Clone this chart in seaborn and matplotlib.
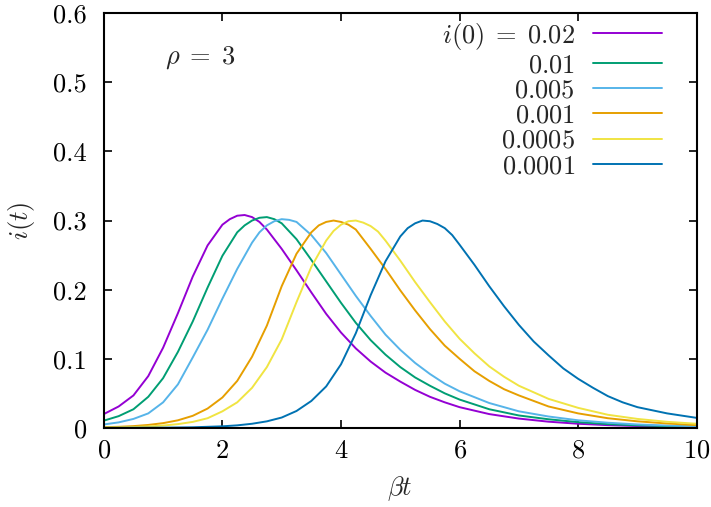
import pandas as pd
import matplotlib
matplotlib.use('Agg')
import matplotlib.pyplot as plt
import seaborn as sns

# --------------
# Data
# --------------
labels = [r'$i(0) \;=\; 0.02$', '$0.01$', '$0.005$', '$0.001$', '$0.0005$', '$0.0001$']
colors = ['#9400d3', '#009e73', '#56b4e9', '#e69f00', '#f0e442', '#0072b2']

# i(0) = 0.02
t_a = [0, 0.25, 0.5, 0.75, 1.0, 1.25, 1.5, 1.75, 2.0, 2.125, 2.25, 2.375, 2.5, 2.625,
       2.75, 3.0, 3.25, 3.5, 3.75, 4.0, 4.25, 4.5, 4.75, 5.0, 5.25, 5.5, 5.75, 6.0,
       6.5, 7.0, 7.5, 8.0, 8.5, 9.0, 9.5, 10.0]
i_a = [0.020, 0.031, 0.047, 0.075, 0.116, 0.166, 0.219, 0.264, 0.294, 0.302, 0.307,
       0.308, 0.305, 0.298, 0.287, 0.259, 0.228, 0.196, 0.165, 0.138, 0.115, 0.096,
       0.080, 0.067, 0.055, 0.045, 0.037, 0.030, 0.020, 0.0135, 0.009, 0.006, 0.004,
       0.0027, 0.0018, 0.0012]

# i(0) = 0.01
t_b = [0, 0.25, 0.5, 0.75, 1.0, 1.25, 1.5, 1.75, 2.0, 2.25, 2.375, 2.5, 2.625, 2.75,
       2.875, 3.0, 3.25, 3.5, 3.75, 4.0, 4.25, 4.5, 4.75, 5.0, 5.25, 5.5, 5.75, 6.0,
       6.5, 7.0, 7.5, 8.0, 8.5, 9.0, 9.5, 10.0]
i_b = [0.0105, 0.017, 0.027, 0.045, 0.072, 0.110, 0.154, 0.203, 0.249, 0.283, 0.293,
       0.300, 0.304, 0.305, 0.302, 0.296, 0.273, 0.243, 0.212, 0.181, 0.152, 0.127,
       0.106, 0.088, 0.073, 0.061, 0.050, 0.041, 0.027, 0.018, 0.0125, 0.0083, 0.0055,
       0.0037, 0.0025, 0.0017]

# i(0) = 0.005
t_c = [0, 0.25, 0.5, 0.75, 1.0, 1.25, 1.5, 1.75, 2.0, 2.25, 2.5, 2.625, 2.75, 2.875,
       3.0, 3.125, 3.25, 3.5, 3.75, 4.0, 4.25, 4.5, 4.75, 5.0, 5.25, 5.5, 5.75, 6.0,
       6.5, 7.0, 7.5, 8.0, 8.5, 9.0, 9.5, 10.0]
i_c = [0.005, 0.008, 0.013, 0.021, 0.037, 0.063, 0.102, 0.142, 0.187, 0.230, 0.268,
       0.283, 0.293, 0.299, 0.302, 0.301, 0.298, 0.279, 0.253, 0.222, 0.191, 0.162,
       0.135, 0.113, 0.094, 0.078, 0.064, 0.053, 0.036, 0.024, 0.0165, 0.011, 0.0075,
       0.005, 0.0034, 0.0023]

# i(0) = 0.001
t_d = [0, 0.25, 0.5, 0.75, 1.0, 1.25, 1.5, 1.75, 2.0, 2.25, 2.5, 2.75, 3.0, 3.25, 3.5,
       3.625, 3.75, 3.875, 4.0, 4.125, 4.25, 4.5, 4.75, 5.0, 5.25, 5.5, 5.75, 6.0,
       6.25, 6.5, 6.75, 7.0, 7.5, 8.0, 8.5, 9.0, 9.5, 10.0]
i_d = [0.001, 0.0016, 0.0026, 0.0043, 0.0069, 0.011, 0.0175, 0.028, 0.044, 0.068,
       0.103, 0.148, 0.205, 0.252, 0.283, 0.293, 0.298, 0.300, 0.298, 0.294, 0.287,
       0.259, 0.230, 0.199, 0.170, 0.143, 0.119, 0.100, 0.082, 0.068, 0.056, 0.047,
       0.031, 0.021, 0.014, 0.0095, 0.0064, 0.004]

# i(0) = 0.0005
t_e = [0, 0.25, 0.5, 0.75, 1.0, 1.25, 1.5, 1.75, 2.0, 2.25, 2.5, 2.75, 3.0, 3.25, 3.5,
       3.75, 3.875, 4.0, 4.125, 4.25, 4.375, 4.5, 4.625, 4.75, 5.0, 5.25, 5.5, 5.75,
       6.0, 6.25, 6.5, 6.75, 7.0, 7.5, 8.0, 8.5, 9.0, 9.5, 10.0]
i_e = [0.0005, 0.0008, 0.0013, 0.0021, 0.0034, 0.0055, 0.0087, 0.014, 0.024, 0.037,
       0.058, 0.088, 0.128, 0.182, 0.233, 0.271, 0.285, 0.294, 0.299, 0.300, 0.297,
       0.292, 0.284, 0.271, 0.242, 0.211, 0.182, 0.154, 0.129, 0.108, 0.089, 0.074,
       0.061, 0.042, 0.029, 0.019, 0.013, 0.0088, 0.006]

# i(0) = 0.0001
t_f = [0, 0.5, 1.0, 1.5, 2.0, 2.25, 2.5, 2.75, 3.0, 3.25, 3.5, 3.75, 4.0, 4.25, 4.5,
       4.75, 5.0, 5.125, 5.25, 5.375, 5.5, 5.625, 5.75, 5.875, 6.0, 6.25, 6.5, 6.75,
       7.0, 7.25, 7.5, 7.75, 8.0, 8.25, 8.5, 8.75, 9.0, 9.5, 10.0]
i_f = [0.0001, 0.0002, 0.0004, 0.0009, 0.0023, 0.0037, 0.006, 0.0095, 0.015, 0.0245,
       0.039, 0.060, 0.092, 0.137, 0.192, 0.241, 0.277, 0.289, 0.296, 0.300, 0.299,
       0.295, 0.289, 0.279, 0.265, 0.236, 0.205, 0.176, 0.149, 0.125, 0.105, 0.086,
       0.071, 0.058, 0.046, 0.037, 0.030, 0.021, 0.0145]

# build one long table for seaborn
series = [(t_a, i_a), (t_b, i_b), (t_c, i_c), (t_d, i_d), (t_e, i_e), (t_f, i_f)]
frames = []
for lab, (tt, ii) in zip(labels, series):
    frames.append(pd.DataFrame({'t': tt, 'i': ii, 'i0': lab}))
df = pd.concat(frames, ignore_index=True)

# --------------
# Style
# --------------
sns.set_theme(style='ticks')
plt.rcParams['font.family'] = ['serif']
plt.rcParams['font.serif'] = ['cmr10', 'DejaVu Serif']
plt.rcParams['mathtext.fontset'] = 'cm'
plt.rcParams['axes.formatter.use_mathtext'] = True
plt.rcParams['axes.unicode_minus'] = False

fs = 19

fig = plt.figure(figsize=(7.11, 5.07), dpi=100)
ax = fig.add_axes([0.146, 0.156, 0.834, 0.818])

sns.lineplot(data=df, x='t', y='i', hue='i0', palette=colors, hue_order=labels,
             estimator=None, linewidth=1.4, ax=ax)

ax.set_xlim(0, 10)
ax.set_ylim(0, 0.6)
ax.set_xticks([0, 2, 4, 6, 8, 10])
ax.set_yticks([0, 0.1, 0.2, 0.3, 0.4, 0.5, 0.6])
ax.set_yticklabels(['0', '0.1', '0.2', '0.3', '0.4', '0.5', '0.6'])
ax.tick_params(direction='in', length=6, width=1.2, top=True, right=True,
               labelsize=fs, colors='black')
ax.tick_params(axis='x', pad=8)
ax.tick_params(axis='y', pad=12)
for s in ax.spines.values():
    s.set_linewidth(1.5)
    s.set_color('black')

ax.set_xlabel(r'$\beta t$', fontsize=fs, labelpad=8)
ax.set_ylabel(r'$i(t)$', fontsize=fs, labelpad=12)
ax.text(1.03, 0.536, r'$\rho \;=\; 3$', fontsize=fs, va='center', ha='left')

# gnuplot-like legend: right aligned text, sample line on the right
leg = ax.legend(loc='upper right', frameon=False, markerfirst=False, fontsize=fs,
                handlelength=2.6, handletextpad=0.7, labelspacing=0.06,
                borderaxespad=0.2, bbox_to_anchor=(0.968, 1.02))
for col in leg._legend_handle_box.get_children():
    col.align = 'right'

fig.savefig('out.png', dpi=100)
plt.close()
print('// complete ....... figure: out.png')
